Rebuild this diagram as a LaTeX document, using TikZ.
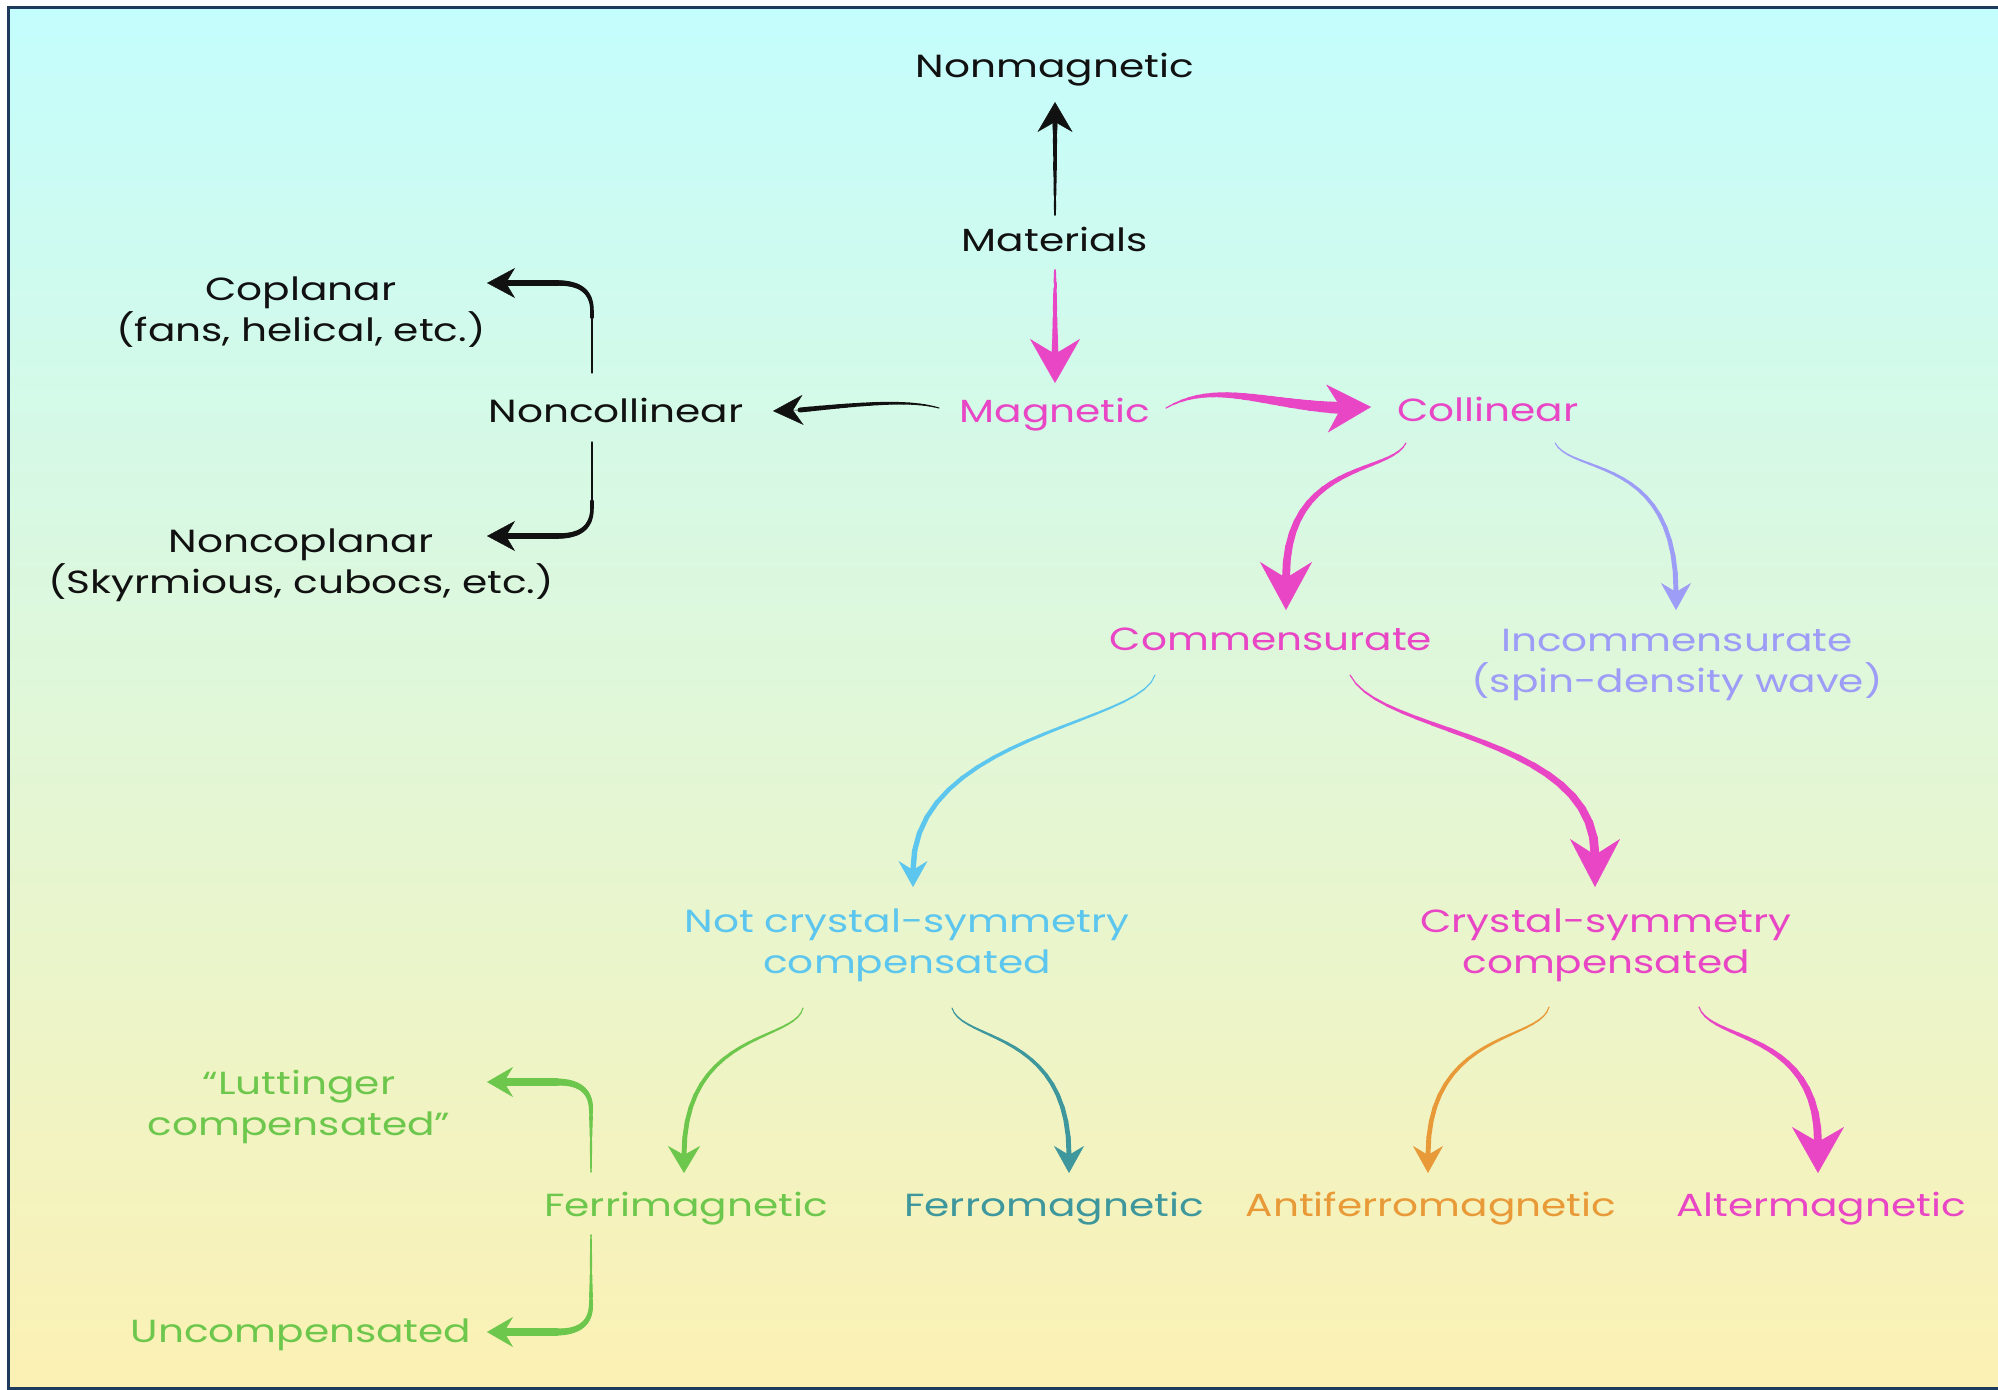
\documentclass[tikz,border=0pt]{standalone}
\usepackage{fontspec}
\setmainfont[FakeStretch=1.27]{Poppins}
\usetikzlibrary{arrows.meta,calc}

\definecolor{cpink}{HTML}{E946C6}
\definecolor{clav}{HTML}{9D9CF7}
\definecolor{cblue}{HTML}{5CC6EE}
\definecolor{cgreen}{HTML}{6DC74C}
\definecolor{cteal}{HTML}{3D979C}
\definecolor{corange}{HTML}{E99A38}
\definecolor{cblack}{HTML}{111111}
\definecolor{bgtop}{HTML}{C4FDFD}
\definecolor{bgbot}{HTML}{FCF1B4}
\definecolor{framecol}{HTML}{1E3A5C}

% tapered stroke along a cubic: #1 colour, #2..#5 points, #6 start width, #7 end width (px)
\newcommand\taper[7]{%
  \foreach \i in {0,...,20}{\path (#2) .. controls (#3) and (#4) .. (#5) coordinate[pos=\i/20] (tp\i);}%
  \foreach \i in {1,...,20}{\pgfmathtruncatemacro\j{\i-1}%
    \draw[#1, line cap=round, line width={((#6)+((#7)-(#6))*(\i-0.5)/20)*0.5pt}] (tp\j) -- (tp\i);}%
}
% arrow head: #1 colour, #2 neck, #3 tip, #4 length, #5 width, #6 inset
\newcommand\ahead[6]{%
  \draw[#1, line width=0.2pt, -{Stealth[length=#4, width=#5, inset=#6]}] (#2) -- (#3);%
}

\tikzset{
  lbl/.style={font=\fontsize{16pt}{20.5pt}\selectfont, inner sep=0pt, anchor=base, align=center}
}

\begin{document}
\begin{tikzpicture}[x=0.5pt,y=-0.5pt]
\useasboundingbox (0,0) rectangle (1998,1390);
\fill[white] (0,0) rectangle (1998,1390);
\shade[top color=bgtop, bottom color=bgbot] (8,8) rectangle (1998,1388);
\draw[framecol, line width=1.5pt] (1998,7.5) -- (8,7.5) -- (8,1388.5) -- (1998,1388.5);

% ---------- nodes (anchor = baseline of the last line) ----------
\node[lbl, cblack] (nonmag) at (1055,78) {Nonmagnetic};
\node[lbl, cblack] (mat) at (1055,252) {Materials};
\node[lbl, cpink] (mag) at (1055,423) {Magnetic};
\node[lbl, cpink] (col) at (1488,422) {Collinear};
\node[lbl, cblack] (noncol) at (616,423) {Noncollinear};
\node[lbl, cblack] (copl) at (301,342) {Coplanar\\(fans, helical, etc.)};
\node[lbl, cblack] (noncopl) at (301,593) {Noncoplanar\\(Skyrmious, cubocs, etc.)};
\node[lbl, cpink] (comm) at (1271,650) {Commensurate};
\node[lbl, clav] (incomm) at (1677,692) {Incommensurate\\(spin-density wave)};
\node[lbl, cblue] (notcs) at (907,973) {Not crystal-symmetry\\compensated};
\node[lbl, cpink] (cs) at (1606,973) {Crystal-symmetry\\compensated};
\node[lbl, cgreen] (ferri) at (686,1216) {Ferrimagnetic};
\node[lbl, cteal] (ferro) at (1054,1216) {Ferromagnetic};
\node[lbl, corange] (afm) at (1431,1216) {Antiferromagnetic};
\node[lbl, cpink] (alt) at (1821,1216) {Altermagnetic};
\node[lbl, cgreen] (lutt) at (299,1135) {“Luttinger\\compensated”};
\node[lbl, cgreen] (uncomp) at (301,1342) {Uncompensated};

% ---------- connectors ----------
% Materials -> Nonmagnetic
\coordinate (a1s) at (1055,215); \coordinate (a1n) at (1055,124); \coordinate (a1t) at (1055,102);
\taper{cblack}{a1s}{a1s}{a1n}{a1n}{1.5}{5}
\ahead{cblack}{a1n}{a1t}{15pt}{17.5pt}{5pt}
% Materials -> Magnetic
\coordinate (a2s) at (1055,270); \coordinate (a2n) at (1055,353); \coordinate (a2t) at (1055,383);
\taper{cpink}{a2s}{a2s}{a2n}{a2n}{1.5}{7}
\ahead{cpink}{a2n}{a2t}{22pt}{25pt}{7.5pt}
% Magnetic -> Noncollinear
\coordinate (a3s) at (939,408); \coordinate (a3a) at (910,400); \coordinate (a3b) at (870,403);
\coordinate (a3n) at (800,410); \coordinate (a3t) at (773,411);
\taper{cblack}{a3s}{a3a}{a3b}{a3n}{1}{5}
\ahead{cblack}{a3n}{a3t}{15pt}{15pt}{5pt}
% Magnetic -> Collinear
\coordinate (a4s) at (1166,408); \coordinate (a4a) at (1215,380); \coordinate (a4b) at (1265,405);
\coordinate (a4n) at (1342,408); \coordinate (a4t) at (1371,407);
\taper{cpink}{a4s}{a4a}{a4b}{a4n}{1}{12}
\ahead{cpink}{a4n}{a4t}{22pt}{24pt}{7pt}
% Collinear -> Commensurate
\coordinate (a5s) at (1406,443); \coordinate (a5a) at (1390,475); \coordinate (a5b) at (1286,460);
\coordinate (a5n) at (1286,578); \coordinate (a5t) at (1286,610);
\taper{cpink}{a5s}{a5a}{a5b}{a5n}{1}{8}
\ahead{cpink}{a5n}{a5t}{24pt}{26pt}{8pt}
% Collinear -> Incommensurate
\coordinate (a6s) at (1555,443); \coordinate (a6a) at (1572,475); \coordinate (a6b) at (1676,455);
\coordinate (a6n) at (1676,592); \coordinate (a6t) at (1676,610);
\taper{clav}{a6s}{a6a}{a6b}{a6n}{1}{5}
\ahead{clav}{a6n}{a6t}{13.5pt}{15pt}{4.5pt}
% Commensurate -> Not crystal-symmetry compensated
\coordinate (a7s) at (1155,675); \coordinate (a7a) at (1140,725); \coordinate (a7b) at (913,735);
\coordinate (a7n) at (913,870); \coordinate (a7t) at (913,887);
\taper{cblue}{a7s}{a7a}{a7b}{a7n}{1}{5.5}
\ahead{cblue}{a7n}{a7t}{13pt}{14.5pt}{4.5pt}
% Commensurate -> Crystal-symmetry compensated
\coordinate (a8s) at (1350,675); \coordinate (a8a) at (1380,735); \coordinate (a8b) at (1595,735);
\coordinate (a8n) at (1595,855); \coordinate (a8t) at (1595,887);
\taper{cpink}{a8s}{a8a}{a8b}{a8n}{1}{9}
\ahead{cpink}{a8n}{a8t}{24pt}{25pt}{8pt}
% Not CS -> Ferrimagnetic
\coordinate (a9s) at (803,1008); \coordinate (a9a) at (795,1042); \coordinate (a9b) at (684,1030);
\coordinate (a9n) at (684,1155); \coordinate (a9t) at (684,1173);
\taper{cgreen}{a9s}{a9a}{a9b}{a9n}{1}{5}
\ahead{cgreen}{a9n}{a9t}{13.5pt}{16pt}{4.5pt}
% Not CS -> Ferromagnetic
\coordinate (a10s) at (952,1008); \coordinate (a10a) at (962,1042); \coordinate (a10b) at (1069,1030);
\coordinate (a10n) at (1069,1155); \coordinate (a10t) at (1069,1173);
\taper{cteal}{a10s}{a10a}{a10b}{a10n}{1}{5}
\ahead{cteal}{a10n}{a10t}{13.5pt}{15pt}{4.5pt}
% CS -> Antiferromagnetic
\coordinate (a11s) at (1549,1007); \coordinate (a11a) at (1540,1042); \coordinate (a11b) at (1428,1030);
\coordinate (a11n) at (1428,1155); \coordinate (a11t) at (1428,1173);
\taper{corange}{a11s}{a11a}{a11b}{a11n}{1}{5}
\ahead{corange}{a11n}{a11t}{13.5pt}{15pt}{4.5pt}
% CS -> Altermagnetic
\coordinate (a12s) at (1699,1007); \coordinate (a12a) at (1710,1042); \coordinate (a12b) at (1818,1030);
\coordinate (a12n) at (1818,1143); \coordinate (a12t) at (1818,1173);
\taper{cpink}{a12s}{a12a}{a12b}{a12n}{1}{8}
\ahead{cpink}{a12n}{a12t}{23pt}{26pt}{7.5pt}

% Noncollinear -> Coplanar (bracket)
\coordinate (b1s) at (592,373); \coordinate (b1c) at (592,311); \coordinate (b1k1) at (592,290);
\coordinate (b1k2) at (578,283); \coordinate (b1h) at (558,283); \coordinate (b1n) at (507,283); \coordinate (b1t) at (487,283);
\taper{cblack}{b1s}{b1s}{b1c}{b1c}{1}{3.5}
\taper{cblack}{b1c}{b1k1}{b1k2}{b1h}{3.5}{5.5}
\taper{cblack}{b1h}{b1h}{b1n}{b1n}{5.5}{6}
\ahead{cblack}{b1n}{b1t}{14pt}{15pt}{4.5pt}
% Noncollinear -> Noncoplanar
\coordinate (b2s) at (592,442); \coordinate (b2c) at (592,508); \coordinate (b2k1) at (592,529);
\coordinate (b2k2) at (578,536); \coordinate (b2h) at (558,536); \coordinate (b2n) at (507,536); \coordinate (b2t) at (487,536);
\taper{cblack}{b2s}{b2s}{b2c}{b2c}{1}{3.5}
\taper{cblack}{b2c}{b2k1}{b2k2}{b2h}{3.5}{5.5}
\taper{cblack}{b2h}{b2h}{b2n}{b2n}{5.5}{6}
\ahead{cblack}{b2n}{b2t}{14pt}{15pt}{4.5pt}
% Ferrimagnetic -> Luttinger compensated
\coordinate (b3s) at (591,1172); \coordinate (b3c) at (591,1110); \coordinate (b3k1) at (591,1089);
\coordinate (b3k2) at (577,1082); \coordinate (b3h) at (557,1082); \coordinate (b3n) at (507,1082); \coordinate (b3t) at (487,1082);
\taper{cgreen}{b3s}{b3s}{b3c}{b3c}{1}{4}
\taper{cgreen}{b3c}{b3k1}{b3k2}{b3h}{4}{7}
\taper{cgreen}{b3h}{b3h}{b3n}{b3n}{7}{8}
\ahead{cgreen}{b3n}{b3t}{13pt}{15pt}{4.5pt}
% Ferrimagnetic -> Uncompensated
\coordinate (b4s) at (591,1235); \coordinate (b4c) at (591,1304); \coordinate (b4k1) at (591,1325);
\coordinate (b4k2) at (577,1332); \coordinate (b4h) at (557,1332); \coordinate (b4n) at (507,1332); \coordinate (b4t) at (487,1332);
\taper{cgreen}{b4s}{b4s}{b4c}{b4c}{1}{4}
\taper{cgreen}{b4c}{b4k1}{b4k2}{b4h}{4}{7}
\taper{cgreen}{b4h}{b4h}{b4n}{b4n}{7}{8}
\ahead{cgreen}{b4n}{b4t}{13pt}{15pt}{4.5pt}
\end{tikzpicture}
\end{document}
